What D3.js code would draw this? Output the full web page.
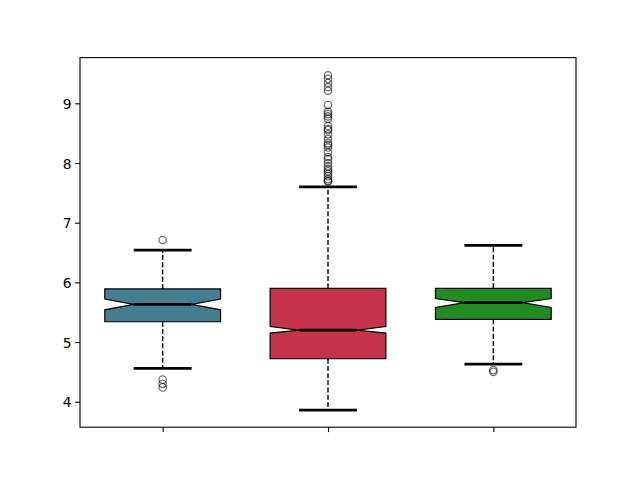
<!DOCTYPE html>
<html>
<head>
<meta charset="utf-8">
<script src="https://cdn.jsdelivr.net/npm/d3@7"></script>
<style>
  body { margin: 0; background: #fff; }
  svg { font-family: "DejaVu Sans", sans-serif; }
</style>
</head>
<body>
<div id="chart"></div>
<script>
// box statistics
const groups = [1, 2, 3];
const q1 = [5.34, 4.72, 5.38];
const medians = [5.63, 5.20, 5.66];
const q3 = [5.89, 5.90, 5.90];
const notchLow = [5.54, 5.15, 5.58];
const notchHigh = [5.72, 5.26, 5.73];
const whiskLow = [4.56, 3.86, 4.63];
const whiskHigh = [6.54, 7.60, 6.62];
const fliers = [
  [6.71, 4.37, 4.30, 4.24],
  [9.47, 9.41, 9.34, 9.27, 9.21,
   8.97, 8.86, 8.82, 8.78, 8.74, 8.62, 8.57, 8.55, 8.48, 8.40, 8.33, 8.30, 8.26,
   8.18, 8.10, 8.06, 8.00, 7.94, 7.90, 7.86, 7.82, 7.78, 7.73, 7.70, 7.69],
  [4.53, 4.50]
];
const colors = ["#457d91", "#c5334a", "#228b22"];
const yTicks = [4, 5, 6, 7, 8, 9];

const config = {
  width: 640, height: 480,
  margin: { top: 57.6, right: 64, bottom: 52.8, left: 80 }
};
const width = config.width - config.margin.left - config.margin.right;
const height = config.height - config.margin.top - config.margin.bottom;

const svg = d3.select("#chart").append("svg")
  .attr("width", config.width)
  .attr("height", config.height);

const chart = svg.append("g")
  .attr("transform", `translate(${config.margin.left},${config.margin.top})`);

const xScale = d3.scaleLinear().domain([0.5, 3.5]).range([0, width]);
const yScale = d3.scaleLinear().domain([3.573, 9.766]).range([height, 0]);

const boxW = xScale(1.35) - xScale(1);   // half of box width
const data = groups.map((g, i) => ({
  g, q1: q1[i], med: medians[i], q3: q3[i],
  nl: notchLow[i], nh: notchHigh[i],
  wl: whiskLow[i], wh: whiskHigh[i],
  fl: fliers[i], color: colors[i]
}));

const boxes = chart.selectAll(".box").data(data).enter().append("g").attr("class", "box");

// whiskers
boxes.each(function (d) {
  const g = d3.select(this);
  const cx = xScale(d.g);
  [[d.q1, d.wl], [d.q3, d.wh]].forEach(([a, b]) => {
    g.append("line")
      .attr("x1", cx).attr("x2", cx)
      .attr("y1", yScale(a)).attr("y2", yScale(b))
      .attr("stroke", "black").attr("stroke-width", 1.4)
      .attr("stroke-dasharray", "5,2.2");
  });
  [d.wl, d.wh].forEach(v => {
    g.append("line")
      .attr("x1", cx - boxW / 2).attr("x2", cx + boxW / 2)
      .attr("y1", yScale(v)).attr("y2", yScale(v))
      .attr("stroke", "black").attr("stroke-width", 2.8);
  });
});

// notched boxes
boxes.append("path")
  .attr("d", d => {
    const cx = xScale(d.g);
    const l = cx - boxW, r = cx + boxW;
    const li = cx - boxW / 2, ri = cx + boxW / 2;
    const pts = [
      [l, yScale(d.q1)], [r, yScale(d.q1)], [r, yScale(d.nl)], [ri, yScale(d.med)],
      [r, yScale(d.nh)], [r, yScale(d.q3)], [l, yScale(d.q3)], [l, yScale(d.nh)],
      [li, yScale(d.med)], [l, yScale(d.nl)]
    ];
    return d3.line()(pts) + "Z";
  })
  .attr("fill", d => d.color)
  .attr("stroke", "black")
  .attr("stroke-width", 1.2);

// medians
boxes.append("line")
  .attr("x1", d => xScale(d.g) - boxW / 2)
  .attr("x2", d => xScale(d.g) + boxW / 2)
  .attr("y1", d => yScale(d.med))
  .attr("y2", d => yScale(d.med))
  .attr("stroke", "black").attr("stroke-width", 2.8);

// outliers
boxes.selectAll(".flier")
  .data(d => d.fl.map(v => ({ g: d.g, v })))
  .enter().append("circle")
  .attr("class", "flier")
  .attr("cx", d => xScale(d.g))
  .attr("cy", d => yScale(d.v))
  .attr("r", 3.7)
  .attr("fill", "none")
  .attr("stroke", "black")
  .attr("stroke-opacity", 0.55)
  .attr("stroke-width", 1.3);

// axes
const xAxis = chart.append("g")
  .attr("transform", `translate(0,${height})`)
  .call(d3.axisBottom(xScale).tickValues(groups).tickFormat("").tickSize(4.9));
const yAxis = chart.append("g")
  .call(d3.axisLeft(yScale).tickValues(yTicks).tickFormat(d3.format("d")).tickSize(4.9));

[xAxis, yAxis].forEach(a => {
  a.attr("font-size", 13.9).attr("font-family", "DejaVu Sans");
  a.select(".domain").remove();
  a.selectAll(".tick line").attr("stroke", "black").attr("stroke-width", 1.1);
  a.selectAll(".tick text").attr("fill", "black");
});
yAxis.selectAll(".tick text").attr("x", -8.3).attr("dy", "0.36em");

// frame
chart.append("rect")
  .attr("width", width).attr("height", height)
  .attr("fill", "none").attr("stroke", "black").attr("stroke-width", 1.1);
</script>
</body>
</html>
